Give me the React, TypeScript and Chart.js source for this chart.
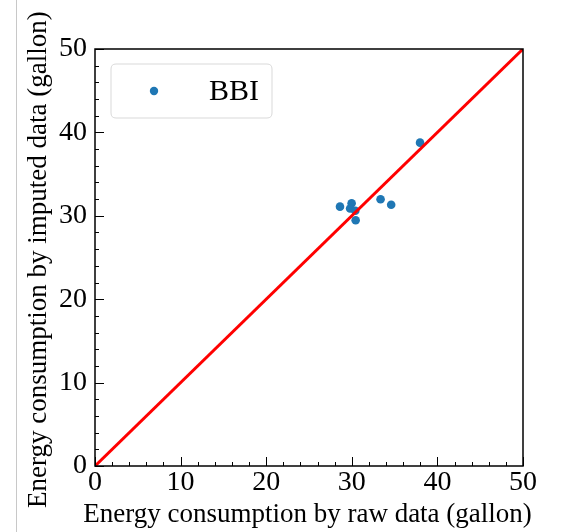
import React, { useEffect, useRef } from "react";
import { Chart, registerables } from "chart.js";

Chart.register(...registerables);

const rawX = [37.97, 28.62, 29.98, 29.8, 30.41, 30.45, 33.36, 34.6];
const imputedY = [38.77, 31.1, 31.5, 30.88, 30.61, 29.46, 31.98, 31.33];
const refLineX = [0, 50];
const refLineY = [0, 50];
const seriesLabel = "BBI";
const xTitle = "Energy consumption by raw data (gallon)";
const yTitle = "Energy consumption by imputed data (gallon)";
const axisMin = 0;
const axisMax = 50;
const majorStep = 10;
const minorStep = 2;

const FONT = "'Liberation Serif', 'Times New Roman', serif";

const framePlugin = {
  id: "frame",
  afterDraw(chart: any) {
    const { ctx, chartArea, scales } = chart;
    const { left, right, top, bottom } = chartArea;
    ctx.save();
    ctx.strokeStyle = "#000";
    ctx.lineWidth = 1.5;
    ctx.strokeRect(left, top, right - left, bottom - top);
    ctx.lineWidth = 1;
    for (let v = axisMin; v <= axisMax; v += minorStep) {
      const major = v % majorStep === 0;
      const len = major ? 9 : 4;
      const px = Math.round(scales.x.getPixelForValue(v)) + 0.5;
      ctx.beginPath();
      ctx.moveTo(px, bottom);
      ctx.lineTo(px, bottom - len);
      ctx.stroke();
      const py = Math.round(scales.y.getPixelForValue(v)) + 0.5;
      ctx.beginPath();
      ctx.moveTo(left, py);
      ctx.lineTo(left + len, py);
      ctx.stroke();
    }
    // axis titles
    ctx.fillStyle = "#000";
    ctx.font = `27px ${FONT}`;
    ctx.textAlign = "center";
    ctx.textBaseline = "alphabetic";
    ctx.fillText(xTitle, 307.5, 522);
    ctx.save();
    ctx.translate(46, 259.7);
    ctx.rotate(-Math.PI / 2);
    ctx.fillText(yTitle, 0, 0);
    ctx.restore();
    // legend
    const lx = 111, ly = 64, lw = 161, lh = 54, r = 5;
    ctx.beginPath();
    ctx.moveTo(lx + r, ly);
    ctx.lineTo(lx + lw - r, ly);
    ctx.quadraticCurveTo(lx + lw, ly, lx + lw, ly + r);
    ctx.lineTo(lx + lw, ly + lh - r);
    ctx.quadraticCurveTo(lx + lw, ly + lh, lx + lw - r, ly + lh);
    ctx.lineTo(lx + r, ly + lh);
    ctx.quadraticCurveTo(lx, ly + lh, lx, ly + lh - r);
    ctx.lineTo(lx, ly + r);
    ctx.quadraticCurveTo(lx, ly, lx + r, ly);
    ctx.closePath();
    ctx.fillStyle = "rgba(255,255,255,0.8)";
    ctx.fill();
    ctx.strokeStyle = "#d9d9d9";
    ctx.lineWidth = 1;
    ctx.stroke();
    ctx.fillStyle = "#1f77b4";
    ctx.beginPath();
    ctx.arc(154, 91, 4.2, 0, Math.PI * 2);
    ctx.fill();
    ctx.fillStyle = "#000";
    ctx.font = `30px ${FONT}`;
    ctx.textBaseline = "alphabetic";
    ctx.textAlign = "left";
    ctx.fillText(chart.data.datasets[0].label, 209, 99.5);
    ctx.restore();
  },
};

export default function App() {
  const ref = useRef<HTMLCanvasElement>(null);
  useEffect(() => {
    document.body.style.margin = "0";
    const canvas = ref.current!;
    const chart = new Chart(canvas, {
      type: "scatter",
      data: {
        datasets: [
          {
            label: seriesLabel,
            data: rawX.map((x, i) => ({ x, y: imputedY[i] })),
            backgroundColor: "#1f77b4",
            borderWidth: 0,
            pointRadius: 4.3,
            order: 2,
          },
          {
            label: "ref",
            data: refLineX.map((x, i) => ({ x, y: refLineY[i] })),
            showLine: true,
            borderColor: "#ff0000",
            borderWidth: 3,
            pointRadius: 0,
            order: 1,
          },
        ],
      },
      options: {
        responsive: false,
        animation: false,
        devicePixelRatio: 1,
        layout: { padding: { top: 49, right: 40, left: 0, bottom: 0 } },
        plugins: { legend: { display: false }, tooltip: { enabled: false } },
        scales: {
          x: {
            type: "linear",
            min: axisMin,
            max: axisMax,
            grid: { display: false, drawTicks: false },
            border: { display: false },
            ticks: { stepSize: majorStep, padding: 0, color: "#000", font: { family: FONT, size: 28 }, maxRotation: 0 },
            title: { display: false },
            afterFit: (s: any) => { s.height = 66; },
          },
          y: {
            type: "linear",
            min: axisMin,
            max: axisMax,
            grid: { display: false, drawTicks: false },
            border: { display: false },
            ticks: { stepSize: majorStep, padding: 8, color: "#000", font: { family: FONT, size: 28 } },
            title: { display: false },
            afterFit: (s: any) => { s.width = 95; },
          },
        },
      },
      plugins: [framePlugin],
    });
    return () => chart.destroy();
  }, []);
  return (
    <div style={{ position: "absolute", left: 0, top: 0, width: 563, height: 532, background: "#fff" }}>
      <canvas ref={ref} width={563} height={532} style={{ display: "block", width: 563, height: 532 }} />
      <div style={{ position: "absolute", left: 16, top: 0, width: 1, height: 532, background: "#c8c8c8" }} />
    </div>
  );
}
